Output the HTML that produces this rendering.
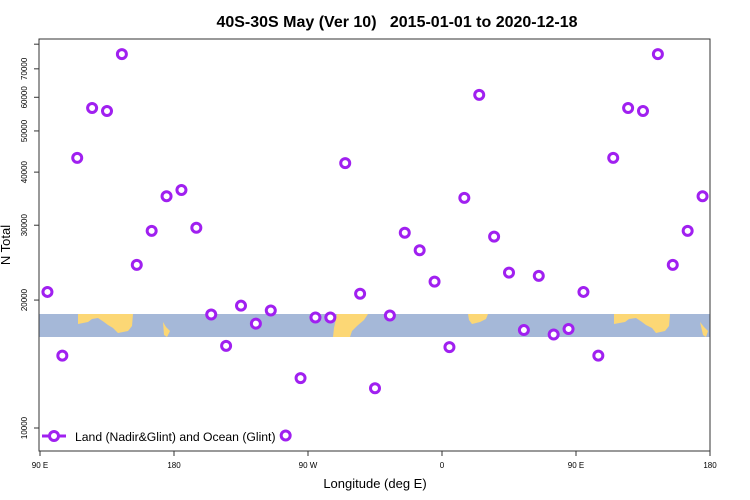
<!DOCTYPE html>
<html><head><meta charset="utf-8"><style>
body{margin:0;background:#fff;}
svg{display:block;font-family:"Liberation Sans",sans-serif;}
</style></head><body>
<svg id="chart" width="750" height="500">
<text x="397" y="27" text-anchor="middle" font-size="16" font-weight="bold" xml:space="preserve">40S-30S May (Ver 10)&#160;&#160;&#160;2015-01-01 to 2020-12-18</text>
<g id="band">
<rect x="39" y="314" width="671" height="23" fill="#a5b8d8"/>
<path d="M78,314 L133,314 L132,326 L128,331 L118,333 L113,328 L108,325 L104,322 L98,318 L92,319 L88,322 L78,324 Z" fill="#fcd775"/>
<path d="M163,322 L166,327 L170,331 L167,337 L164,335 Z" fill="#fcd775"/>
<path d="M337,314 L368,314 L364,320 L357,326 L352,331 L350,337 L333,337 L334,328 Z" fill="#fcd775"/>
<path d="M468,314 L488,314 L486,319 L480,322 L472,324 L469,320 Z" fill="#fcd775"/>
<path d="M614,314 L670,314 L669,326 L665,331 L656,333 L652,328 L646,325 L642,322 L636,318 L629,319 L625,322 L614,324 Z" fill="#fcd775"/>
<path d="M700,322 L704,327 L708,331 L706,337 L703,335 Z" fill="#fcd775"/>
</g>
<path d="M39,39 L710,39 L710,451 L39,451 Z" fill="none" stroke="#333" stroke-width="1"/>
<g id="yaxis"></g>
<g id="xaxis"></g>
<g id="points"></g>
<text x="10" y="245" transform="rotate(-90 10 245)" text-anchor="middle" font-size="13">N Total</text>
<text x="375" y="488" text-anchor="middle" font-size="13">Longitude (deg E)</text>
<g>
<line x1="42" y1="436" x2="66" y2="436" stroke="#a020f0" stroke-width="3"/>
<circle cx="54" cy="436" r="4.5" fill="#fff" stroke="#a020f0" stroke-width="3"/>
<text x="75" y="441" font-size="12.2">Land (Nadir&amp;Glint) and Ocean (Glint)</text>
</g>
</svg>
<script>
const lons=[95,105,115,125,135,145,155,165,175,185,195,205,215,225,235,245,255,265,275,285,295,305,315,325,335,345,355,365,375,385,395,405,415,425,435,445,455,465,475,485,495,505,515,525,535];
const values=[20900,14800,43200,56600,55700,75800,24200,29100,35100,36300,29600,18500,15600,19400,17600,18900,9600,13100,18200,18200,42000,20700,12400,18400,28800,26200,22100,15500,34800,60800,28200,23200,17000,22800,16600,17100,20900,14800,43200,56600,55700,75800,24200,29100,35100];
const yTicks=[10000,20000,30000,40000,50000,60000,70000,80000];
const yTickLabels=["10000","20000","30000","40000","50000","60000","70000",""];
const xTicks=[90,180,270,360,450,540];
const xTickLabels=["90 E","180","90 W","0","90 E","180"];
const NS="http://www.w3.org/2000/svg";
const xs=l=>40+(l-90)*670/450;
const ys=v=>428-(Math.log10(v)-4)*425;
function mk(t,a,p){const e=document.createElementNS(NS,t);for(const k in a)e.setAttribute(k,a[k]);p.appendChild(e);return e;}
const ya=document.getElementById('yaxis'),xa=document.getElementById('xaxis'),pg=document.getElementById('points');
yTicks.forEach((v,i)=>{const y=ys(v);
 const t=mk('line',{x1:34,x2:39,y1:y,y2:y,stroke:'#333'},ya);
 
 
 if(yTickLabels[i]){const tx=mk('text',{x:27,y:y,'font-size':8,'text-anchor':'middle',transform:`rotate(-90 27 ${y})`},ya);tx.textContent=yTickLabels[i];
 
 }
});
xTicks.forEach((l,i)=>{const x=xs(l);
 const t=mk('line',{x1:x,x2:x,y1:451,y2:456,stroke:'#333'},xa);
 
 
 const tx=mk('text',{x:x,y:468,'font-size':8,'text-anchor':'middle'},xa);tx.textContent=xTickLabels[i];
 
 
});
lons.forEach((l,i)=>{
 const c=mk('circle',{cx:xs(l),cy:ys(values[i]),r:4.5,fill:'#fff',stroke:'#a020f0','stroke-width':3},pg);
 
 
});
</script>
</body></html>
